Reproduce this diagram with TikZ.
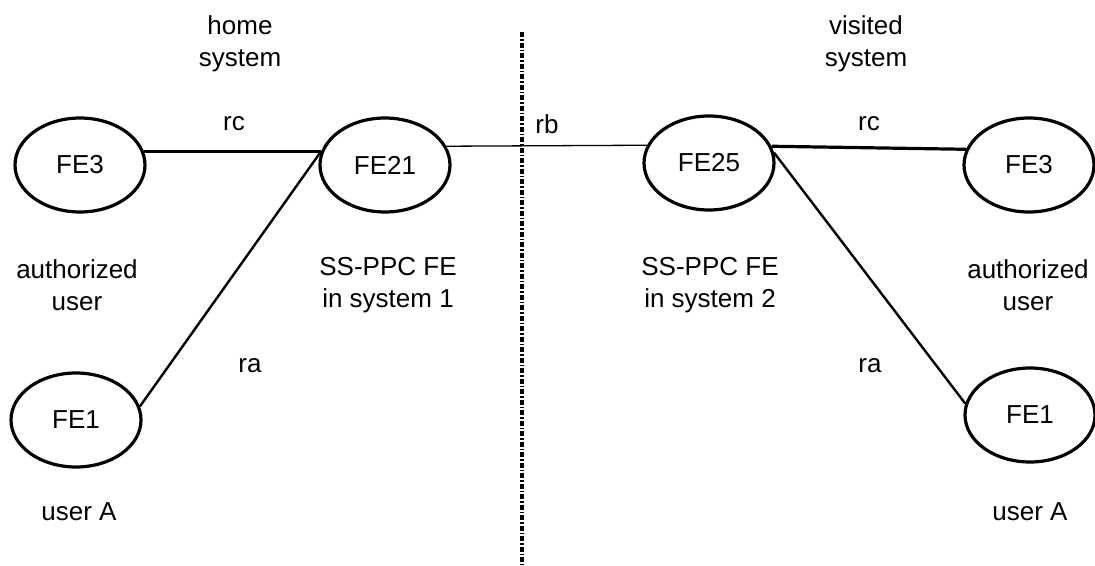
\documentclass[tikz,border=0pt]{standalone}
\usepackage{fontspec}
\setmainfont{Liberation Sans}
\usetikzlibrary{shapes.geometric}

\begin{document}
\begin{tikzpicture}[x=1pt, y=-1pt,
  every fe/.style={ellipse, draw, line width=3.2pt, minimum width=130pt, minimum height=94pt, inner sep=0pt},
  every label/.style={align=center, inner sep=0pt},
  rc link/.style={line width=3.2pt},
  ra link/.style={line width=2.4pt},
  rb link/.style={line width=1.3pt}]
\useasboundingbox (0,0) rectangle (1095,565);
\fontsize{26}{32}\selectfont
\foreach \n/\l/\x/\y in {fe3a/FE3/80/165, fe21/FE21/385/165, fe25/FE25/709/163,
    fe3b/FE3/1029/165, fe1a/FE1/76/420, fe1b/FE1/1030/415}
  \node [every fe] (\n) at (\x,\y) {\l};
% links between the functional entities
\draw [rc link] (fe3a.12) -- (fe21.168);
\draw [ra link] (fe1a.12) -- (fe21.168);
\draw [rb link] (fe21.17) -- (fe25.164);
\draw [rc link] (fe25.15) -- (fe3b.166);
\draw [ra link] (fe25.9) -- (fe1b.170);
% system border
\coordinate (border-top) at (522,32);
\coordinate (border-bottom) at (522,565);
\draw [line width=3.5pt, dash pattern=on 5pt off 2pt on 1.5pt off 2pt] (border-top) -- (border-bottom);
\foreach \n/\l/\x/\y in {home/{home\\system}/240/44, visited/{visited\\system}/866/44,
    rc-1/rc/234/124, rb/rb/547/124, rc-2/rc/869/124,
    auth-1/{authorized\\user}/77/285, ppc-1/{SS-PPC FE\\in system 1}/388/285,
    ppc-2/{SS-PPC FE\\in system 2}/710/285, auth-2/{authorized\\user}/1028/285,
    ra-1/ra/250/366, ra-2/ra/870/366, user-1/user A/79/512, user-2/user A/1030/512}
  \node [every label] (\n) at (\x,\y) {\l};
\end{tikzpicture}
\end{document}
